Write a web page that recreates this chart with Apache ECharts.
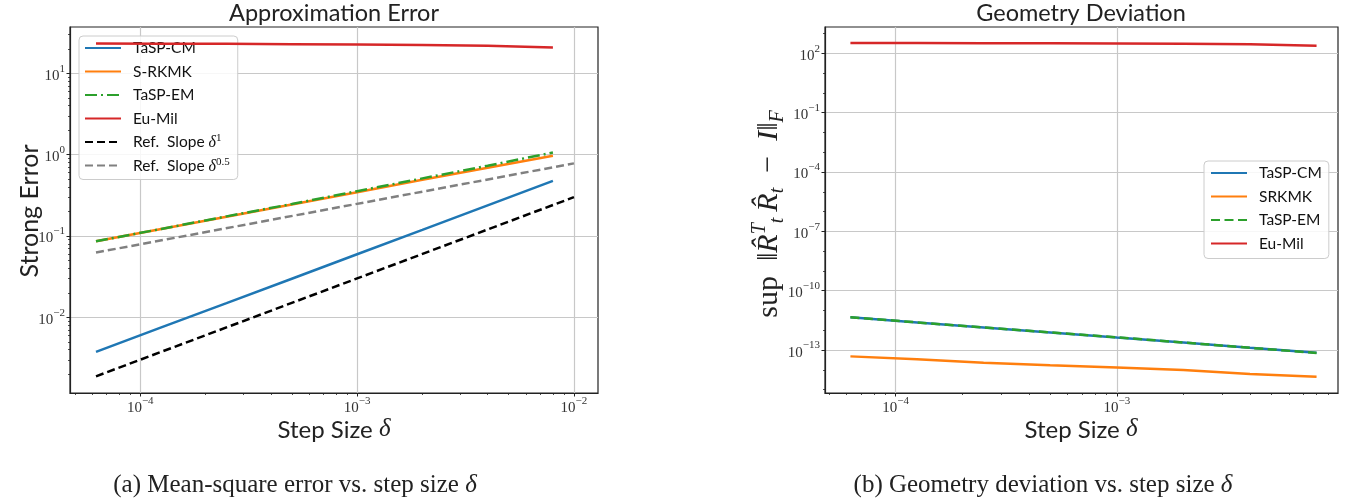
<!DOCTYPE html>
<html><head><meta charset="utf-8">
<script src="https://cdn.jsdelivr.net/npm/echarts@6/dist/echarts.min.js"></script>
<style>html,body{margin:0;padding:0;background:#fff}#c{width:1358px;height:504px}</style>
</head><body><div id="c"></div>
<script>
// ---------- data ----------
const stepSizes = [6.25e-5, 1.25e-4, 2.5e-4, 5e-4, 1e-3, 2e-3, 4e-3, 8e-3];
const refStepSizes = [6.25e-5, 1e-2];
// (a) strong error
const errTaspCM = [0.00376, 0.0075, 0.0149, 0.0298, 0.0596, 0.119, 0.238, 0.475];
const errSRKMK  = [0.086, 0.122, 0.172, 0.243, 0.345, 0.49, 0.69, 0.97];
const errTaspEM = [0.086, 0.122, 0.174, 0.247, 0.355, 0.51, 0.73, 1.06];
const errEuMil  = [23.2, 23.1, 23.0, 22.8, 22.6, 22.3, 21.8, 20.8];
const refSlope1  = [0.00188, 0.3];
const refSlope05 = [0.0625, 0.78];
// (b) geometry deviation
const devTaspCM = [4.5e-12, 2.5e-12, 1.4e-12, 7.8e-13, 4.3e-13, 2.4e-13, 1.3e-13, 7.3e-14];
const devSRKMK  = [4.8e-14, 3.4e-14, 2.3e-14, 1.7e-14, 1.3e-14, 9.7e-15, 6.2e-15, 4.5e-15];
const devTaspEM = [4.6e-12, 2.5e-12, 1.4e-12, 7.9e-13, 4.4e-13, 2.4e-13, 1.3e-13, 7.2e-14];
const devEuMil  = [330, 328, 325, 322, 316, 305, 285, 242];
// ticks
const xTicksA = [1e-4, 1e-3, 1e-2];
const yTicksA = [1e-2, 1e-1, 1, 10];
const xTicksB = [1e-4, 1e-3];
const yTicksB = [1e-13, 1e-10, 1e-7, 1e-4, 1e-1, 1e2];
const yMinorExpB = [-15, -14, -12, -11, -9, -8, -6, -5, -3, -2, 0, 1, 3];

// ---------- helpers ----------
function minorsBetween(e0, e1) {
  const out = [];
  for (let e = e0; e <= e1; e++) for (let m = 2; m <= 9; m++) out.push(m * Math.pow(10, e));
  return out;
}
const SERIF = 'Liberation Serif';
const SANS = 'Lato';
const TXT = '#222';
const labelRich = {
  b: {fontFamily: SERIF, fontSize: 15, color: '#333', lineHeight: 20, verticalAlign: 'bottom'},
  e: {fontFamily: SERIF, fontSize: 11, color: '#333', lineHeight: 12, verticalAlign: 'top'}
};
function powLabel(v) {
  const e = Math.round(Math.log10(v));
  return '{b|10}{e|' + String(e).replace('-', '\u2212') + '}';
}
function mainAxis(gridIndex, pos, lo, hi, ticks, margin) {
  return {
    type: 'log', logBase: 10, gridIndex, position: pos,
    min: Math.pow(10, lo), max: Math.pow(10, hi),
    axisLine: {show: true, onZero: false, lineStyle: {color: '#222', width: 1.2}},
    axisTick: {show: true, inside: false, length: 3.5, customValues: ticks, lineStyle: {color: '#222', width: 1}},
    axisLabel: {show: true, customValues: ticks, margin, formatter: powLabel, rich: labelRich},
    splitLine: {show: true, lineStyle: {color: '#c8c8c8', width: 1.2}},
    minorTick: {show: false}, minorSplitLine: {show: false}
  };
}
function minorAxis(gridIndex, pos, lo, hi, ticks) {
  return {
    type: 'log', logBase: 10, gridIndex, position: pos, offset: 0,
    min: Math.pow(10, lo), max: Math.pow(10, hi),
    axisLine: {show: false, onZero: false},
    axisTick: {show: true, inside: false, length: 2, customValues: ticks, lineStyle: {color: '#222', width: 0.8}},
    axisLabel: {show: false},
    splitLine: {show: false}
  };
}
function pairs(xs, ys) { return xs.map((x, i) => [x, ys[i]]); }
function line(name, xi, yi, data, color, type, z) {
  return {
    name, type: 'line', xAxisIndex: xi, yAxisIndex: yi, data,
    symbol: 'none', showSymbol: false, smooth: false, z,
    lineStyle: {color, width: 2.5, type, cap: 'butt'}, itemStyle: {color}
  };
}

const A = {x0: -4.324, x1: -1.889, y0: -2.931, y1: 1.569};
const B = {x0: -4.319, x1: -2.0, y0: -15.17, y1: 3.33};

const legendBase = {
  orient: 'vertical', itemWidth: 36, itemHeight: 18, itemGap: 5.5,
  backgroundColor: 'rgba(255,255,255,0.85)', borderColor: '#cccccc', borderWidth: 1, borderRadius: 4,
  selectedMode: false,
  itemStyle: {opacity: 0, borderWidth: 0},
  textStyle: {
    fontFamily: SANS, fontSize: 15.5, color: '#111', lineHeight: 18, padding: [0, 0, 0, 7],
    rich: {
      d: {fontFamily: SERIF, fontStyle: 'italic', fontSize: 16, color: '#111', lineHeight: 18, verticalAlign: 'bottom'},
      e: {fontFamily: SERIF, fontSize: 11, color: '#111', lineHeight: 11, verticalAlign: 'top'}
    }
  }
};

const capRich = {
  r: {fontFamily: SERIF, fontSize: 25, fill: TXT, color: TXT, lineHeight: 28},
  i: {fontFamily: SERIF, fontStyle: 'italic', fontSize: 25, fill: TXT, color: TXT, lineHeight: 28}
};
const stepRich = {
  s: {fontFamily: SANS, fontSize: 24, fill: TXT, color: TXT, lineHeight: 28, verticalAlign: 'bottom'},
  d: {fontFamily: SERIF, fontStyle: 'italic', fontSize: 25, fill: TXT, color: TXT, lineHeight: 28, verticalAlign: 'bottom'}
};
function centered(x, y, text, rich, extra) {
  return Object.assign({type: 'text', x, y, style: {
    text, rich, align: 'center', verticalAlign: 'middle', textAlign: 'center', textVerticalAlign: 'middle'}}, extra || {});
}

const option = {
  animation: false,
  backgroundColor: '#fff',
  grid: [
    {left: 70, top: 27, width: 528, height: 366, show: true, borderColor: '#222', borderWidth: 1.2, backgroundColor: 'transparent'},
    {left: 825, top: 27, width: 513, height: 366, show: true, borderColor: '#222', borderWidth: 1.2, backgroundColor: 'transparent'}
  ],
  xAxis: [
    mainAxis(0, 'bottom', A.x0, A.x1, xTicksA, 3),
    minorAxis(0, 'bottom', A.x0, A.x1, minorsBetween(-5, -2)),
    mainAxis(1, 'bottom', B.x0, B.x1, xTicksB, 3),
    minorAxis(1, 'bottom', B.x0, B.x1, minorsBetween(-5, -2))
  ],
  yAxis: [
    mainAxis(0, 'left', A.y0, A.y1, yTicksA, 5),
    minorAxis(0, 'left', A.y0, A.y1, minorsBetween(-3, 1)),
    mainAxis(1, 'left', B.y0, B.y1, yTicksB, 5),
    minorAxis(1, 'left', B.y0, B.y1, yMinorExpB.map(e => Math.pow(10, e)))
  ],
  legend: [
    Object.assign({}, legendBase, {
      left: 79, top: 36, padding: [3, 8, 5, 5],
      data: ['TaSP-CM', 'S-RKMK', 'TaSP-EM', 'Eu-Mil', 'Ref. Slope 1', 'Ref. Slope 0.5'],
      formatter: function (n) {
        if (n === 'Ref. Slope 1') return 'Ref.  Slope {d|\u03b4}{e|1}';
        if (n === 'Ref. Slope 0.5') return 'Ref.  Slope {d|\u03b4}{e|0.5}';
        return n;
      }
    }),
    Object.assign({}, legendBase, {
      left: 1204, top: 161, padding: [3, 7, 6, 6],
      data: ['TaSP-CM ', 'SRKMK', 'TaSP-EM ', 'Eu-Mil '],
      formatter: function (n) { return n.trim(); }
    })
  ],
  series: [
    line('TaSP-CM', 0, 0, pairs(stepSizes, errTaspCM), '#1f77b4', 'solid', 3),
    line('S-RKMK', 0, 0, pairs(stepSizes, errSRKMK), '#ff7f0e', 'solid', 4),
    line('TaSP-EM', 0, 0, pairs(stepSizes, errTaspEM), '#2ca02c', [12, 4, 2, 4], 5),
    line('Eu-Mil', 0, 0, pairs(stepSizes, errEuMil), '#d62728', 'solid', 6),
    line('Ref. Slope 1', 0, 0, pairs(refStepSizes, refSlope1), '#000000', [8, 4], 7),
    line('Ref. Slope 0.5', 0, 0, pairs(refStepSizes, refSlope05), '#808080', [8, 4], 8),
    line('TaSP-CM ', 2, 2, pairs(stepSizes, devTaspCM), '#1f77b4', 'solid', 3),
    line('SRKMK', 2, 2, pairs(stepSizes, devSRKMK), '#ff7f0e', 'solid', 4),
    line('TaSP-EM ', 2, 2, pairs(stepSizes, devTaspEM), '#2ca02c', [9, 4.5], 5),
    line('Eu-Mil ', 2, 2, pairs(stepSizes, devEuMil), '#d62728', 'solid', 6)
  ],
  graphic: [
    {type: 'text', x: 334, y: 13, style: {text: 'Approximation Error', font: '23.5px ' + SANS, fill: TXT, align: 'center', verticalAlign: 'middle', textAlign: 'center', textVerticalAlign: 'middle'}},
    {type: 'text', x: 1081, y: 13, style: {text: 'Geometry Deviation', font: '23.5px ' + SANS, fill: TXT, align: 'center', verticalAlign: 'middle', textAlign: 'center', textVerticalAlign: 'middle'}},
    {type: 'text', x: 30, y: 211, rotation: Math.PI / 2, style: {text: 'Strong Error', font: '25px ' + SANS, fill: TXT, align: 'center', verticalAlign: 'middle', textAlign: 'center', textVerticalAlign: 'middle'}},
    centered(334, 428, '{s|Step Size }{d|\u03b4}', stepRich),
    centered(1081, 428, '{s|Step Size }{d|\u03b4}', stepRich),
    centered(769, 214,
      '{r|sup\u2002\u2016}{i|R\u0302}{sp|T}{sb|t}{i|\u2009R\u0302}{sb|t}{r|\u2002\u2212\u2002}{i|I}{r|\u2016}{sb|F}',
      {
        r: {fontFamily: SERIF, fontSize: 30, fill: TXT, color: TXT, lineHeight: 38, verticalAlign: 'middle'},
        i: {fontFamily: SERIF, fontStyle: 'italic', fontSize: 30, fill: TXT, color: TXT, lineHeight: 38, verticalAlign: 'middle'},
        sp: {fontFamily: SERIF, fontStyle: 'italic', fontSize: 20, fill: TXT, color: TXT, lineHeight: 21, verticalAlign: 'top'},
        sb: {fontFamily: SERIF, fontStyle: 'italic', fontSize: 20, fill: TXT, color: TXT, lineHeight: 21, verticalAlign: 'bottom'}
      }, {rotation: Math.PI / 2}),
    centered(295, 485, '{r|(a) Mean-square error vs. step size }{i|\u03b4}', capRich),
    centered(1043, 485, '{r|(b) Geometry deviation vs. step size }{i|\u03b4}', capRich)
  ]
};
const chart = echarts.init(document.getElementById('c'), null, {renderer: 'canvas'});
chart.setOption(option);
</script>
</body></html>
